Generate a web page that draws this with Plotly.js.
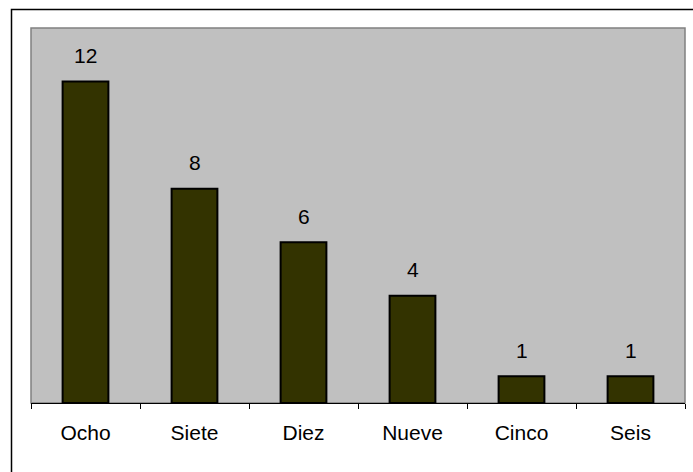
<!DOCTYPE html>
<html>
<head>
<meta charset="utf-8">
<script src="https://cdn.plot.ly/plotly-3.0.1.min.js"></script>
<style>html,body{margin:0;padding:0;background:#fff;}#chart{width:693px;height:472px;}</style>
</head>
<body>
<div id="chart"></div>
<script>
var categories = ["Ocho", "Siete", "Diez", "Nueve", "Cinco", "Seis"];
var values = [12, 8, 6, 4, 1, 1];

var FONT = "Arial, 'Liberation Sans', sans-serif";

var trace = {
  type: "bar",
  x: categories,
  y: values,
  marker: { color: "#333300", line: { color: "#000000", width: 2 } },
  hoverinfo: "x+y"
};

var annotations = categories.map(function (c, i) {
  return {
    x: c, y: values[i], xref: "x", yref: "y",
    text: String(values[i]), showarrow: false,
    yanchor: "middle", yshift: 26,
    font: { family: FONT, size: 21, color: "#000" }
  };
});

var L = 31, R = 685, T = 28, B = 403, W = 693, H = 472;
var pw = R - L, ph = B - T;
function px(x) { return (x - L) / pw; }
function py(y) { return (B - y) / ph; }

var layout = {
  width: W, height: H,
  margin: { l: L, r: W - R, t: T, b: H - B, pad: 0 },
  paper_bgcolor: "#ffffff",
  plot_bgcolor: "#c0c0c0",
  bargap: 0.58,
  showlegend: false,
  font: { family: FONT, size: 21, color: "#000" },
  xaxis: {
    type: "category",
    showgrid: false,
    zeroline: false,
    showline: true,
    linecolor: "#000000",
    linewidth: 1,
    ticks: "outside",
    tickson: "boundaries",
    ticklen: 5,
    tickcolor: "#000000",
    tickwidth: 1,
    tickfont: { family: FONT, size: 21, color: "#000" },
    ticklabelstandoff: 11
  },
  yaxis: {
    range: [0, 14],
    showgrid: false,
    zeroline: false,
    showline: false,
    showticklabels: false,
    ticks: ""
  },
  annotations: annotations,
  shapes: [
    { type: "rect", xref: "paper", yref: "paper", x0: 0, x1: 1, y0: 0, y1: 1,
      line: { color: "#808080", width: 1.5 }, layer: "below" },
    { type: "rect", xref: "paper", yref: "paper",
      x0: px(11.5), x1: px(720), y0: py(500), y1: py(9.5),
      line: { color: "#000000", width: 1.5 }, fillcolor: "rgba(0,0,0,0)" }
  ]
};

Plotly.newPlot("chart", [trace], layout, { displayModeBar: false, staticPlot: true });
</script>
</body>
</html>
